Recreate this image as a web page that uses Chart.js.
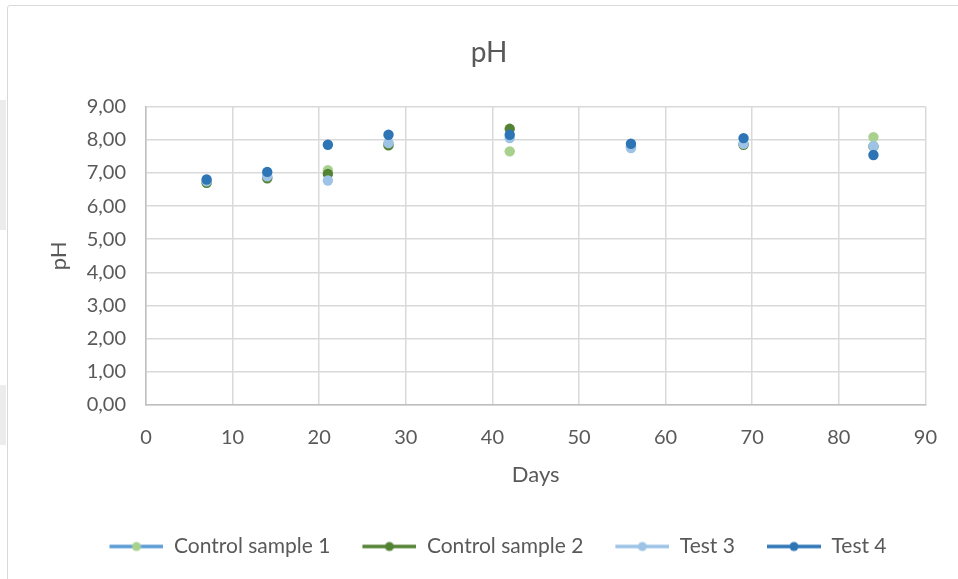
<!DOCTYPE html>
<html>
<head>
<meta charset="utf-8">
<script src="https://cdn.jsdelivr.net/npm/chart.js@4.4.0/dist/chart.umd.min.js"></script>
<style>
  html, body { margin: 0; padding: 0; background: #ffffff; }
  #wrap { position: relative; width: 958px; height: 579px; overflow: hidden; }
  #frame { position: absolute; left: 7px; top: 5px; width: 1000px; height: 600px; border: 1px solid #d9d9d9; border-radius: 3px; box-sizing: border-box; }
  .shade { position: absolute; left: 0; width: 6px; background: #ececec; }
  canvas { position: absolute; left: 0; top: 0; }
</style>
</head>
<body>
<div id="wrap">
  <div class="shade" style="top:100px;height:130px;"></div>
  <div class="shade" style="top:385px;height:60px;"></div>
  <div id="frame"></div>
  <canvas id="c" width="958" height="579"></canvas>
</div>
<script>
const days = [7, 14, 21, 28, 42, 56, 69, 84];
const seriesNames = ["Control sample 1", "Control sample 2", "Test 3", "Test 4"];
const control1 = [6.70, 6.88, 7.08, 7.88, 7.65, 7.78, 7.87, 8.08];
const control2 = [6.70, 6.84, 6.97, 7.83, 8.33, 7.78, 7.85, 7.80];
const test3    = [6.75, 6.90, 6.77, 7.90, 8.05, 7.75, 7.88, 7.81];
const test4    = [6.80, 7.03, 7.85, 8.15, 8.15, 7.88, 8.05, 7.54];
const xTicks = [0, 10, 20, 30, 40, 50, 60, 70, 80, 90];
const yTicks = [0, 1, 2, 3, 4, 5, 6, 7, 8, 9];

const markerColors = ["#A9D18E", "#548235", "#9DC3E6", "#2E75B6"];
const lineColors   = ["#5B9BD5", "#548235", "#9DC3E6", "#2E75B6"];
const values = [control1, control2, test3, test4];

const ICON_W = 72, ICON_LEFT = 18;
function legendIcon(lineColor, dotColor) {
  const c = document.createElement('canvas');
  c.width = ICON_W; c.height = 14;
  const g = c.getContext('2d');
  g.strokeStyle = lineColor; g.lineWidth = 3.5; g.lineCap = 'butt';
  g.beginPath(); g.moveTo(ICON_LEFT, 7); g.lineTo(ICON_W, 7); g.stroke();
  g.fillStyle = dotColor;
  g.beginPath(); g.arc(ICON_LEFT + (ICON_W - ICON_LEFT) / 2, 7, 4.5, 0, Math.PI * 2); g.fill();
  return c;
}
const icons = seriesNames.map((n, i) => legendIcon(lineColors[i], markerColors[i]));

const datasets = seriesNames.map((name, i) => ({
  label: name,
  data: days.map((d, j) => ({ x: d, y: values[i][j] })),
  showLine: false,
  pointRadius: 5.2,
  pointHoverRadius: 5.2,
  pointBorderWidth: 0,
  pointBackgroundColor: markerColors[i],
  pointBorderColor: markerColors[i],
  borderColor: lineColors[i],
  backgroundColor: markerColors[i],
  order: 4 - i
}));

const fontFam = "Lato, 'Open Sans', sans-serif";
const txt = "#595959";

new Chart(document.getElementById('c'), {
  type: 'scatter',
  data: { datasets },
  options: {
    responsive: false,
    animation: false,
    devicePixelRatio: 1,
    layout: { padding: { left: 46, right: 26, top: 0, bottom: 12 } },
    plugins: {
      tooltip: { enabled: false },
      title: {
        display: true, text: 'pH', color: txt,
        font: { family: fontFam, size: 28, weight: 'normal' },
        padding: { top: 36, bottom: 37 }
      },
      legend: {
        position: 'bottom',
        labels: {
          usePointStyle: true,
          pointStyleWidth: ICON_W,
          boxHeight: 14,
          padding: 14,
          color: txt,
          font: { family: fontFam, size: 21 },
          generateLabels: (chart) => chart.data.datasets.map((ds, i) => ({
            text: ds.label, pointStyle: icons[i], fillStyle: markerColors[i],
            strokeStyle: lineColors[i], lineWidth: 0, hidden: false, datasetIndex: i, fontColor: txt
          }))
        }
      }
    },
    scales: {
      x: {
        type: 'linear', min: 0, max: 90,
        afterBuildTicks: (s) => { s.ticks = xTicks.map(v => ({ value: v })); },
        afterFit: (s) => { s.height = 117; },
        ticks: { color: txt, font: { family: fontFam, size: 20 }, padding: 21 },
        grid: { color: '#d9d9d9', lineWidth: 1.5, drawTicks: false },
        border: { color: '#bfbfbf', width: 1.5 },
        title: { display: true, text: 'Days', color: txt, font: { family: fontFam, size: 22 }, padding: { top: 0, bottom: 34 } }
      },
      y: {
        type: 'linear', min: 0, max: 9,
        afterBuildTicks: (s) => { s.ticks = yTicks.map(v => ({ value: v })); },
        afterFit: (s) => { s.width = 100; },
        ticks: { color: txt, font: { family: fontFam, size: 20 }, padding: 20,
          callback: (v) => Number(v).toFixed(2).replace('.', ',') },
        grid: { color: '#d9d9d9', lineWidth: 1.5, drawTicks: false },
        border: { color: '#bfbfbf', width: 1.5 },
        title: { display: true, text: 'pH', color: txt, font: { family: fontFam, size: 22 }, padding: 0 }
      }
    }
  }
});
</script>
</body>
</html>
